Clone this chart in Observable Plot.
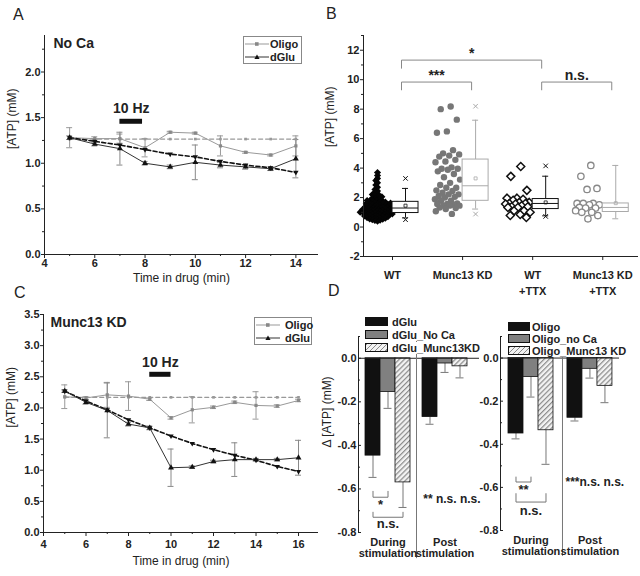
<!DOCTYPE html>
<html><head><meta charset="utf-8">
<script src="https://cdn.jsdelivr.net/npm/d3@7"></script>
<script src="https://cdn.jsdelivr.net/npm/@observablehq/plot@0.6"></script>
<style>
body{margin:0;background:#fff;font-family:"Liberation Sans",Arial,Helvetica,sans-serif;}
#fig{position:relative;width:640px;height:576px;overflow:hidden;background:#fff;}
.panel{position:absolute;}
.letter{position:absolute;font-size:16px;line-height:16px;color:#222;}
.legbox{position:absolute;border:1px solid #888;background:#fff;box-sizing:border-box;}
.legtxt{position:absolute;font-size:11px;font-weight:bold;color:#222;line-height:12px;white-space:nowrap;}
.bg{background:#fff;padding-right:1px;}
.sw{position:absolute;border:1px solid #111;box-sizing:border-box;}
svg [aria-label$="tick label"] text, svg [aria-label$="tick label"]{font-weight:bold;}
</style></head>
<body><div id="fig"></div>
<script>
// ================= DATA =================
// Panel A : No Ca
const timeA = [5,6,7,8,9,10,11,12,13,14];
const oligoA = [1.28,1.27,1.27,1.17,1.34,1.33,1.19,1.12,1.09,1.19];
const oligoErrA = [0.11,0.02,0.05,0.10,0.01,0.01,0.11,0.01,0.01,0.11];
const oligoFitA = [1.265,1.265,1.265,1.265,1.265,1.265,1.265,1.265,1.265,1.265];
const dgluA = [1.28,1.21,1.16,1.00,0.96,1.01,0.98,0.96,0.94,1.05];
const dgluErrA = [0.02,0.02,0.18,0.02,0.02,0.19,0.03,0.025,0.02,0.21];
const dgluFitA = [1.28,1.24,1.20,1.15,1.10,1.07,1.02,0.98,0.95,0.90];
const stimA = [{x1:7.0, x2:7.9, y:1.46, ly:1.60, label:"10 Hz"}];

// Panel C : Munc13 KD
const timeC = [5,6,7,8,9,10,11,12,13,14,15,16];
const oligoC = [2.18,2.16,2.21,2.19,2.14,1.84,1.97,2.01,2.09,2.04,2.03,2.12];
const oligoErrC = [0.19,0.02,0.20,0.23,0.02,0.02,0.21,0.02,0.02,0.22,0.02,0.02];
const oligoFitC = [2.17,2.17,2.17,2.17,2.17,2.17,2.17,2.17,2.17,2.17,2.17,2.17];
const dgluC = [2.27,2.09,1.96,1.74,1.68,1.04,1.05,1.14,1.17,1.17,1.17,1.20];
const dgluErrC = [0.02,0.03,0.44,0.03,0.03,0.30,0.02,0.02,0.27,0.02,0.02,0.28];
const dgluFitC = [2.27,2.11,1.97,1.81,1.68,1.55,1.43,1.33,1.24,1.16,1.06,0.98];
const stimC = [{x1:9.0, x2:10.0, y:2.54, ly:2.73, label:"10 Hz"}];

// Panel B : [ATP] per group
const bCats = ["WT","Munc13 KD","WT\n+TTX","Munc13 KD\n+TTX"];
const wtVals = [0.40,0.44,0.47,0.50,0.53,0.55,0.58,0.60,0.62,0.64,0.66,0.68,
  0.70,0.72,0.74,0.75,0.77,0.79,0.80,0.82,0.84,0.85,0.87,0.88,0.90,0.92,0.93,0.95,0.96,0.98,
  1.00,1.01,1.03,1.05,1.06,1.08,1.10,1.11,1.13,1.15,1.16,1.18,1.20,1.21,1.23,1.25,1.26,1.28,
  1.30,1.31,1.33,1.35,1.37,1.38,1.40,1.42,1.44,1.46,1.48,1.50,1.52,1.54,1.56,1.58,1.60,1.62,
  1.64,1.66,1.68,1.70,1.72,1.75,1.78,1.80,1.83,1.86,1.90,1.95,2.00,2.05,2.10,2.15,2.20,2.27,
  2.35,2.45,2.55,2.70,2.85,3.00,3.15,3.30,3.50,3.70];
const kdVals = [8.18,8.00,7.29,6.49,6.40,5.22,5.00,4.93,4.85,4.78,4.56,4.45,4.40,4.05,3.96,3.96,
  3.89,3.78,3.60,3.38,3.22,3.00,2.85,2.67,2.67,2.49,2.45,2.33,2.22,2.22,2.11,2.05,2.00,1.89,
  1.78,1.78,1.60,1.56,1.56,1.51,1.45,1.45,1.45,1.33,1.29,1.22,1.07,0.89];
const wtTtxVals = [4.11,3.44,2.49,1.96,1.96,1.89,1.82,1.67,1.67,1.60,1.60,1.56,1.56,1.45,1.38,
  1.38,1.33,1.33,1.11,1.11,1.00,0.85,0.78,0.65];
const kdTtxVals = [4.18,3.44,2.62,2.55,1.60,1.60,1.60,1.51,1.51,1.33,1.29,1.29,1.11,1.00,1.00,0.78,0.56];
const boxQ1 = [0.95,1.78,1.22,1.02];
const boxMed = [1.29,2.80,1.60,1.33];
const boxQ3 = [1.71,4.58,1.90,1.60];
const boxMean = [1.45,3.30,1.67,1.62];
const boxLo = [0.62,1.22,0.76,0.56];
const boxHi = [2.62,7.25,3.45,4.18];
const boxXHi = [3.30,8.20,4.15,null];
const boxXLo = [0.50,0.88,0.72,null];
const sigB = [
  {a:1, b:3, y:11.33, leg:10.78, label:"*"},
  {a:1, b:2, y:9.84, leg:9.31, label:"***"},
  {a:3, b:4, y:9.84, leg:9.31, label:"n.s."}
];

// Panel D : delta ATP
const dGroups = ["During\nstimulation","Post\nstimulation"];
const dGluSeries = ["dGlu","dGlu_No Ca","dGlu_Munc13KD"];
const dGluDuring = [-0.447,-0.155,-0.570];
const dGluDuringErr = [0.100,0.075,0.115];
const dGluPost = [-0.270,-0.024,-0.037];
const dGluPostErr = [0.033,0.041,0.053];
const oligoSeries = ["Oligo","Oligo_no Ca","Oligo_Munc13 KD"];
const oligoDuring = [-0.350,-0.088,-0.335];
const oligoDuringErr = [0.025,0.093,0.158];
const oligoPost = [-0.277,-0.050,-0.129];
const oligoPostErr = [0.015,0.043,0.078];
const sigDL = [{a:0,b:1,y:-0.638,leg:-0.611,label:"*",ly:-0.672},{a:0,b:2,y:-0.730,leg:-0.707,label:"n.s.",ly:-0.762}];
const sigDR = [{a:0,b:1,y:-0.575,leg:-0.552,label:"**",ly:-0.610},{a:0,b:2,y:-0.668,leg:-0.629,label:"n.s.",ly:-0.708}];
const postSigL = [{label:"** n.s. n.s.", y:-0.645}];
const postSigR = [{label:"***n.s. n.s.", y:-0.575}];

// ================= HELPERS =================
const FONT = '"Liberation Sans", Arial, Helvetica, sans-serif';
const fig = document.getElementById("fig");
const fmt1 = d => d.toFixed(1);
function place(node, left, top) {
  const d = document.createElement("div");
  d.className = "panel"; d.style.left = left + "px"; d.style.top = top + "px";
  d.appendChild(node); fig.appendChild(d); return node;
}
const baseStyle = {background:"transparent", overflow:"visible", fontFamily:FONT, color:"#222"};

function timePanel(cfg) {
  const L = cfg.layout;
  const rows = cfg.times.map((t,i)=>({t, o:cfg.oligo[i], oe:cfg.oligoErr[i], of:cfg.oligoFit[i],
    g:cfg.dglu[i], ge:cfg.dgluErr[i], gf:cfg.dgluFit[i]}));
  const pxX = (L.width - L.marginLeft - L.marginRight) / (cfg.xDomain[1] - cfg.xDomain[0]);
  const cap = 3 / pxX;
  const err = (v, e, color) => [
    Plot.ruleX(rows, {x:"t", y1:d=>v(d)-e(d), y2:d=>v(d)+e(d), stroke:color, strokeWidth:1}),
    Plot.ruleY(rows, {y:d=>v(d)+e(d), x1:d=>d.t-cap, x2:d=>d.t+cap, stroke:color}),
    Plot.ruleY(rows, {y:d=>v(d)-e(d), x1:d=>d.t-cap, x2:d=>d.t+cap, stroke:color})
  ];
  return Plot.plot({
    ...L,
    x:{domain:cfg.xDomain, label:null},
    y:{domain:cfg.yDomain, label:null},
    style:baseStyle,
    marks:[
      ...err(d=>d.o, d=>d.oe, "#999"),
      ...err(d=>d.g, d=>d.ge, "#888"),
      Plot.line(rows, {x:"t", y:"of", stroke:"#999", strokeWidth:1.3, strokeDasharray:"4,3"}),
      Plot.dot(rows, {x:"t", y:"of", symbol:"square", r:1.5, fill:"#999"}),
      Plot.line(rows, {x:"t", y:"o", stroke:"#999", strokeWidth:1}),
      Plot.dot(rows, {x:"t", y:"o", symbol:"square", r:1.8, fill:"#888"}),
      Plot.line(rows, {x:"t", y:"gf", stroke:"#111", strokeWidth:1.6, strokeDasharray:"4,2.5"}),
      Plot.dot(rows, {x:"t", y:"gf", symbol:"triangle", rotate:180, r:2, fill:"#111"}),
      Plot.line(rows, {x:"t", y:"g", stroke:"#333", strokeWidth:1}),
      Plot.dot(rows, {x:"t", y:"g", symbol:"triangle", r:2.2, fill:"#111"}),
      Plot.ruleY(cfg.stim, {y:"y", x1:"x1", x2:"x2", stroke:"#111", strokeWidth:5}),
      Plot.text(cfg.stim, {x:d=>(d.x1+d.x2)/2, y:"ly", text:"label", fontSize:14, fontWeight:"bold"}),
      Plot.text([cfg.title], {text:d=>d, frameAnchor:"top-left", dx:cfg.titleDx, dy:3, textAnchor:"start", lineAnchor:"top", fontSize:14, fontWeight:"bold"}),
      Plot.ruleX([cfg.xDomain[0]], {stroke:"#222"}),
      Plot.ruleY([cfg.yDomain[0]], {stroke:"#222"}),
      Plot.axisY({ticks:cfg.yTicks, tickFormat:fmt1, tickSize:3, tickPadding:1, fontSize:11, fontWeight:"bold", label:null}),
      Plot.axisY({ticks:cfg.yMinor, tickFormat:()=>"", tickSize:2, label:null}),
      Plot.axisX({ticks:cfg.xTicks, tickFormat:d=>String(d), tickSize:4, tickPadding:cfg.xPad, fontSize:11, fontWeight:"bold", label:null}),
      Plot.axisX({ticks:cfg.xMinor, tickFormat:()=>"", tickSize:2, label:null}),
      Plot.text(["[ATP] (mM)"], {text:d=>d, frameAnchor:"left", rotate:-90, dx:-32, dy:cfg.yTitleDy, fontSize:12}),
      Plot.text(["Time in drug (min)"], {text:d=>d, frameAnchor:"bottom", dy:cfg.xTitleDy, fontSize:12})
    ]
  });
}

// ================= PANEL A =================
place(timePanel({
  times:timeA, oligo:oligoA, oligoErr:oligoErrA, oligoFit:oligoFitA,
  dglu:dgluA, dgluErr:dgluErrA, dgluFit:dgluFitA, stim:stimA, title:"No Ca", titleDx:9,
  layout:{width:320, height:290, marginTop:35, marginRight:2, marginBottom:36, marginLeft:44},
  xDomain:[4,14.9], yDomain:[0,2.4],
  yTicks:[0,0.5,1,1.5,2], yMinor:[0.25,0.75,1.25,1.75,2.25],
  xTicks:[4,6,8,10,12,14], xMinor:[5,7,9,11,13], xPad:1, yTitleDy:4, xTitleDy:27
}), 0, 0);

// ================= PANEL C =================
place(timePanel({
  times:timeC, oligo:oligoC, oligoErr:oligoErrC, oligoFit:oligoFitC,
  dglu:dgluC, dgluErr:dgluErrC, dgluFit:dgluFitC, stim:stimC, title:"Munc13 KD", titleDx:7,
  layout:{width:320, height:291, marginTop:29, marginRight:2, marginBottom:44, marginLeft:43},
  xDomain:[4,16.94], yDomain:[0,3.5],
  yTicks:[0,0.5,1,1.5,2,2.5,3,3.5], yMinor:[0.25,0.75,1.25,1.75,2.25,2.75,3.25],
  xTicks:[4,6,8,10,12,14,16], xMinor:[5,7,9,11,13,15], xPad:4, yTitleDy:4, xTitleDy:32
}), 0, 285);

// ================= PANEL B =================
(function(){
  const L = {width:320, height:290, marginTop:35, marginRight:2, marginBottom:34, marginLeft:43};
  const xDomain = [0.586, 4.51], yDomain = [-2, 13];
  const pxX = (L.width - L.marginLeft - L.marginRight) / (xDomain[1]-xDomain[0]);
  const pxY = (L.height - L.marginTop - L.marginBottom) / (yDomain[1]-yDomain[0]);
  const cloud = -15 / pxX, boxW = 26 / pxX, capW = 3 / pxX, brk = 9 / pxX;
  function swarm(vals, spacing) {
    const order = d3.range(vals.length).sort((a,b)=>vals[a]-vals[b]);
    const placed = [], off = new Array(vals.length);
    for (const i of order) {
      const y = vals[i]*pxY;
      const near = placed.filter(p => Math.abs(p.y-y) < spacing);
      let x = 0;
      for (let k=0; k<400; k++) {
        const c = (k%2 ? -1 : 1) * Math.ceil(k/2) * spacing/3;
        if (near.every(p => (p.x-c)**2 + (p.y-y)**2 >= spacing*spacing)) { x = c; break; }
      }
      placed.push({x,y}); off[i] = x;
    }
    return off;
  }
  const jitter = (vals, half) => vals.map((v,i)=> ((((i+1)*0.6180339887) % 1) - 0.5) * 2 * half);
  const wtOff = swarm(wtVals, 2.6);
  const mk = (vals, g, offs) => vals.map((v,i)=>({x: g + cloud + offs[i]/pxX, y:v}));
  const wtPts = mk(wtVals, 1, wtOff);
  const kdPts = mk(kdVals, 2, jitter(kdVals, 13));
  const wtTtxPts = mk(wtTtxVals, 3, jitter(wtTtxVals, 13));
  const kdTtxPts = mk(kdTtxVals, 4, jitter(kdTtxVals, 13));
  const boxColors = ["#111","#aaa","#111","#aaa"];
  const boxes = bCats.map((c,i)=>({g:i+1, q1:boxQ1[i], med:boxMed[i], q3:boxQ3[i], mean:boxMean[i],
    lo:boxLo[i], hi:boxHi[i], xhi:boxXHi[i], xlo:boxXLo[i], color:boxColors[i]}));
  const xm = boxes.flatMap(b => [b.xhi, b.xlo].filter(v=>v!=null).map(v=>({x:b.g+boxW/2, y:v, color:b.color})));
  const brPts = sigB.flatMap((s,k)=>[
    {k, x:s.a+brk, y:s.leg}, {k, x:s.a+brk, y:s.y}, {k, x:s.b+brk, y:s.y}, {k, x:s.b+brk, y:s.leg}]);
  const svg = Plot.plot({
    ...L,
    x:{domain:xDomain, label:null}, y:{domain:yDomain, label:null},
    color:{type:"identity"},
    style:baseStyle,
    marks:[
      Plot.dot(wtPts, {x:"x", y:"y", symbol:"diamond2", r:3.2, fill:"#050505"}),
      Plot.dot(kdPts, {x:"x", y:"y", r:3.2, fill:"#777"}),
      Plot.dot(wtTtxPts, {x:"x", y:"y", symbol:"diamond2", r:3.6, fill:"white", stroke:"#111", strokeWidth:1.5}),
      Plot.dot(kdTtxPts, {x:"x", y:"y", r:3.2, fill:"white", stroke:"#888", strokeWidth:1.3}),
      Plot.ruleX(boxes, {x:d=>d.g+boxW/2, y1:"q3", y2:"hi", stroke:"color"}),
      Plot.ruleX(boxes, {x:d=>d.g+boxW/2, y1:"q1", y2:"lo", stroke:"color"}),
      Plot.ruleY(boxes, {y:"hi", x1:d=>d.g+boxW/2-capW, x2:d=>d.g+boxW/2+capW, stroke:"color"}),
      Plot.ruleY(boxes, {y:"lo", x1:d=>d.g+boxW/2-capW, x2:d=>d.g+boxW/2+capW, stroke:"color"}),
      Plot.rect(boxes, {x1:"g", x2:d=>d.g+boxW, y1:"q1", y2:"q3", fill:"white", stroke:"color"}),
      Plot.ruleY(boxes, {y:"med", x1:"g", x2:d=>d.g+boxW, stroke:"color"}),
      Plot.dot(boxes, {x:d=>d.g+boxW/2, y:"mean", symbol:"square", r:1.7, stroke:"color", fill:"none", strokeWidth:0.8}),
      Plot.dot(xm, {x:"x", y:"y", symbol:"times", r:2.2, stroke:"color", strokeWidth:1}),
      Plot.line(brPts, {x:"x", y:"y", z:"k", stroke:"#888", strokeWidth:1}),
      Plot.text(sigB, {x:d=>(d.a+d.b)/2+brk, y:"y", text:"label", dy:-2, lineAnchor:"bottom", fontSize:14, fontWeight:"bold"}),
      Plot.ruleX([xDomain[0]], {stroke:"#222"}),
      Plot.ruleY([yDomain[0]], {stroke:"#222"}),
      Plot.axisY({ticks:[-2,0,2,4,6,8,10,12], tickFormat:d=>String(d), tickSize:3, tickPadding:1, fontSize:11, fontWeight:"bold", label:null}),
      Plot.axisY({ticks:[-1,1,3,5,7,9,11,13], tickFormat:()=>"", tickSize:2, label:null}),
      Plot.axisX({ticks:[1,2,3,4], tickFormat:()=>"", tickSize:4, label:null}),
      Plot.text(bCats.map((c,i)=>({g:i+1, c})), {x:"g", text:"c", frameAnchor:"bottom", dy:11, lineAnchor:"top", lineHeight:1.45, fontSize:11, fontWeight:"bold"}),
      Plot.text(["[ATP] (mM)"], {text:d=>d, frameAnchor:"left", rotate:-90, dx:-33, dy:1, fontSize:12})
    ]
  });
  place(svg, 320, 0);
})();

// ================= PANEL D =================
function addHatch(svg, id) {
  const ns = "http://www.w3.org/2000/svg";
  const defs = document.createElementNS(ns, "defs");
  defs.innerHTML = `<pattern id="${id}" patternUnits="userSpaceOnUse" width="3.6" height="3.6" patternTransform="rotate(45)"><rect width="3.6" height="3.6" fill="#f2f2f2"/><line x1="0.6" y1="0" x2="0.6" y2="3.6" stroke="#8a8a8a" stroke-width="1.2"/></pattern>`;
  svg.insertBefore(defs, svg.firstChild);
}
function dPanel(cfg) {
  const L = cfg.layout;
  const pxX = (L.width - L.marginLeft - L.marginRight) / (cfg.xDomain[1]-cfg.xDomain[0]);
  const cap = 4 / pxX;
  const rows = [];
  cfg.series.forEach((s, si) => {
    rows.push({g:0, s:si, v:cfg.during[si], e:cfg.duringErr[si]});
    rows.push({g:1, s:si, v:cfg.post[si], e:cfg.postErr[si]});
  });
  rows.forEach(d => { d.x1 = d.g*cfg.gap + d.s; d.x2 = d.x1 + 1; d.cx = d.x1 + 0.5; });
  const fills = ["#111", "#808080", `url(#${cfg.hatch})`];
  const brPts = cfg.sig.flatMap((s,k)=>[
    {k, x:s.a+0.5, y:s.leg}, {k, x:s.a+0.5, y:s.y}, {k, x:s.b+0.5, y:s.y}, {k, x:s.b+0.5, y:s.leg}]);
  const marks = [
    Plot.ruleX(rows, {x:"cx", y1:"v", y2:d=>d.v-d.e, stroke:"#777"}),
    Plot.ruleY(rows, {y:d=>d.v-d.e, x1:d=>d.cx-cap, x2:d=>d.cx+cap, stroke:"#777"}),
    ...fills.map((f, si) => Plot.rect(rows.filter(d=>d.s===si), {x1:"x1", x2:"x2", y1:()=>0, y2:"v", fill:f, stroke:"#111", strokeWidth:0.8})),
    Plot.ruleY([0], {stroke:"#222"}),
    Plot.ruleX([cfg.divider], {y1:cfg.yDomain[1]-0.008, y2:-0.92, stroke:"#777"}),
    Plot.line(brPts, {x:"x", y:"y", z:"k", stroke:"#777", strokeWidth:1}),
    Plot.text(cfg.sig, {x:d=>(d.a+d.b)/2+0.5, y:"ly", text:"label", fontSize:13, fontWeight:"bold"}),
    Plot.text(cfg.postSig, {x:()=>cfg.gap+cfg.postSigDx, y:"y", text:"label", textAnchor:"start", fontSize:12, fontWeight:"bold"}),
    Plot.text(dGroups.map((t,g)=>({t,g})), {x:d=>d.g*cfg.gap+1.5, text:"t", frameAnchor:"bottom", dy:6, lineAnchor:"top", lineHeight:1.0, fontSize:11, fontWeight:"bold"}),
    Plot.ruleX([cfg.xDomain[0]], {stroke:"#222"}),
    Plot.axisY({ticks:[0,-0.2,-0.4,-0.6,-0.8], tickFormat:fmt1, tickSize:-3, tickPadding:5, fontSize:11, fontWeight:"bold", label:null}),
    Plot.axisY({ticks:[0.1,-0.1,-0.3,-0.5,-0.7], tickFormat:()=>"", tickSize:-2, label:null})
  ];
  if (cfg.yTitle) marks.push(Plot.text([cfg.yTitle], {text:d=>d, frameAnchor:"left", rotate:-90, dx:-31, dy:13, fontSize:12}));
  const svg = Plot.plot({
    ...L,
    x:{domain:cfg.xDomain, label:null, axis:null}, y:{domain:cfg.yDomain, label:null},
    style:baseStyle,
    marks
  });
  addHatch(svg, cfg.hatch);
  return svg;
}
place(dPanel({
  layout:{width:160, height:291, marginTop:51, marginRight:1, marginBottom:44, marginLeft:38},
  xDomain:[-0.467, 7.6], yDomain:[-0.8, 0.1], gap:3.8, divider:3.4,
  series:dGluSeries, during:dGluDuring, duringErr:dGluDuringErr, post:dGluPost, postErr:dGluPostErr,
  sig:sigDL, postSig:postSigL, postSigDx:0.05, hatch:"hatchL", yTitle:"Δ [ATP] (mM)"
}), 320, 285);
place(dPanel({
  layout:{width:160, height:291, marginTop:51, marginRight:21, marginBottom:46, marginLeft:20},
  xDomain:[-0.533, 7.4], yDomain:[-0.8, 0.1], gap:3.93, divider:3.6,
  series:oligoSeries, during:oligoDuring, duringErr:oligoDuringErr, post:oligoPost, postErr:oligoPostErr,
  sig:sigDR, postSig:postSigR, postSigDx:-0.13, hatch:"hatchR", yTitle:null
}), 480, 285);

// ================= LEGENDS & LETTERS =================
function lineLegend(left, top, w, h, textX, rowY) {
  const box = document.createElement("div");
  box.className = "legbox";
  Object.assign(box.style, {left:left+"px", top:top+"px", width:w+"px", height:h+"px"});
  const names = ["Oligo","dGlu"];
  const sym = [
    `<line x1="0" y1="4" x2="24" y2="4" stroke="#999" stroke-width="1"/><rect x="10" y="2.2" width="3.6" height="3.6" fill="#888"/>`,
    `<line x1="0" y1="4" x2="24" y2="4" stroke="#333" stroke-width="1"/><path d="M12,1.4 L14.6,6 L9.4,6 Z" fill="#111"/>`
  ];
  names.forEach((n,i)=>{
    box.insertAdjacentHTML("beforeend",
      `<svg style="position:absolute;left:1px;top:${rowY[i]-4}px" width="25" height="8">${sym[i]}</svg>` +
      `<div class="legtxt" style="left:${textX}px;top:${rowY[i]-6}px">${n}</div>`);
  });
  fig.appendChild(box);
}
lineLegend(243, 36, 59, 28, 26, [7, 20]);
lineLegend(254, 317, 58, 28, 30, [6.5, 19.5]);

function barLegend(x, tops, w, textX, names) {
  const bg = ["#111", "#808080", "repeating-linear-gradient(135deg, #8a8a8a 0 1.1px, #f2f2f2 1.1px 3.6px)"];
  names.forEach((n,i)=>{
    const s = document.createElement("div");
    s.className = "sw";
    Object.assign(s.style, {left:x+"px", top:tops[i]+"px", width:w+"px", height:"9px", background:bg[i]});
    fig.appendChild(s);
  });
  names.forEach((n,i)=>{
    const t = document.createElement("div");
    t.className = "legtxt bg"; t.textContent = n;
    Object.assign(t.style, {left:textX+"px", top:(tops[i]-1)+"px"});
    fig.appendChild(t);
  });
}
barLegend(365, [317, 330, 343], 23, 392, dGluSeries);
barLegend(508, [322, 334, 346], 22, 532, oligoSeries);

[["A",13,7],["B",326,6],["C",14,285],["D",328,283]].forEach(([t,l,tp])=>{
  const d = document.createElement("div"); d.className="letter"; d.textContent=t;
  d.style.left=l+"px"; d.style.top=tp+"px"; fig.appendChild(d);
});
</script>
</body></html>
